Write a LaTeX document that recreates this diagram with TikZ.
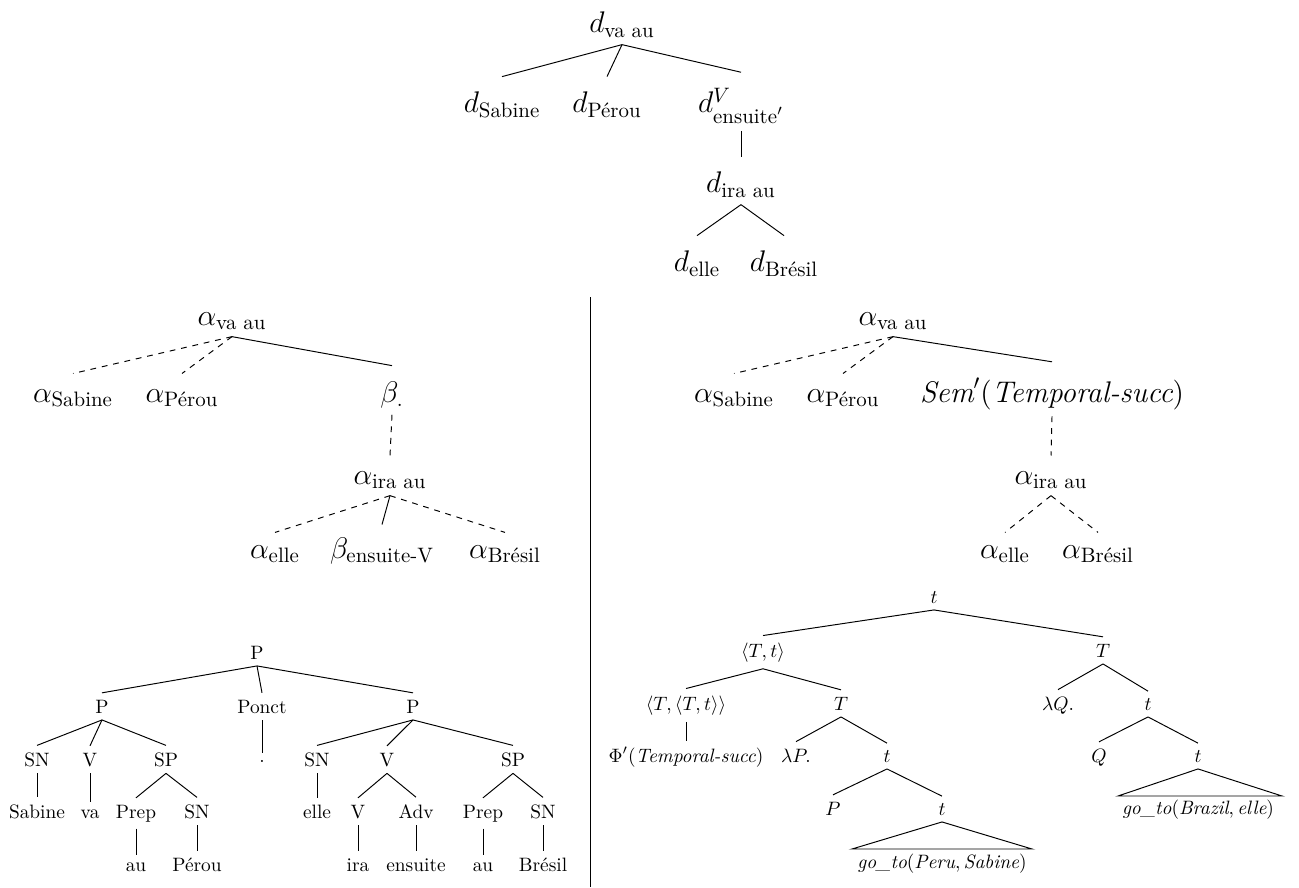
\RequirePackage{fix-cm}
\documentclass[tikz,border=0pt]{standalone}
\usepackage{amsmath}
\usepackage{amssymb}
\usepackage{fontspec}
\usepackage{tikz}
\newcommand{\BigSize}{\fontsize{15.4}{18}\selectfont}
\newcommand{\MyGap}{4.5pt}
\tikzset{
  lab/.style={anchor=base},
  big/.style={anchor=base, font=\BigSize},
  dline/.style={dashed},
}

\begin{document}
\begin{tikzpicture}[x=0.01815cm,y=-0.01815cm,line width=0.5pt]
\useasboundingbox (0,0) rectangle (1299,887);

% derivation tree
\node[big] (dva) at (622,33) {$d_{\text{va au}}$};
\node[big] (dsab) at (502,113) {$d_{\text{Sabine}}$};
\node[big] (dper) at (607,113) {$d_{\text{Pérou}}$};
\node[big] (dens) at (741,113) {$d^{V}_{\text{ensuite}'}$};
\node[big] (dira) at (741,193) {$d_{\text{ira au}}$};
\node[big] (delle) at (697,272) {$d_{\text{elle}}$};
\node[big] (dbre) at (784,272) {$d_{\text{Brésil}}$};

\draw (dva.south) -- ([yshift=\MyGap]dsab.north);
\draw (dva.south) -- ([yshift=\MyGap]dper.north);
\draw (dva.south) -- ([yshift=\MyGap]dens.north);
\draw (dens.south) -- ([yshift=\MyGap]dira.north);
\draw (dira.south) -- ([yshift=\MyGap]delle.north);
\draw (dira.south) -- ([yshift=\MyGap]dbre.north);

% derived tree, left
\node[big] (lva) at (232,325) {$\alpha_{\text{va au}}$};
\node[big] (lsab) at (73,402) {$\alpha_{\text{Sabine}}$};
\node[big] (lper) at (182,402) {$\alpha_{\text{Pérou}}$};
\node[big] (lbeta) at (392,402) {$\beta_{.}$};
\node[big] (lira) at (390,484) {$\alpha_{\text{ira au}}$};
\node[big] (lelle) at (275,558) {$\alpha_{\text{elle}}$};
\node[big] (lens) at (382,558) {$\beta_{\text{ensuite-V}}$};
\node[big] (lbre) at (505,558) {$\alpha_{\text{Brésil}}$};

\draw[dline] (lva.south) -- ([yshift=\MyGap]lsab.north);
\draw[dline] (lva.south) -- ([yshift=\MyGap]lper.north);
\draw (lva.south) -- ([yshift=\MyGap]lbeta.north);
\draw[dline] (lbeta.south) -- ([yshift=\MyGap]lira.north);
\draw[dline] (lira.south) -- ([yshift=3pt]lelle.north);
\draw (lira.south) -- ([yshift=3pt]lens.north);
\draw[dline] (lira.south) -- ([yshift=3pt]lbre.north);

% derived tree, right
\node[big] (rva) at (893,325) {$\alpha_{\text{va au}}$};
\node[big] (rsab) at (734,402) {$\alpha_{\text{Sabine}}$};
\node[big] (rper) at (843,402) {$\alpha_{\text{Pérou}}$};
\node[big] (rsem) at (1052,402) {$\mathit{Sem}'(\textit{Temporal-succ})$};
\node[big] (rira) at (1051,484) {$\alpha_{\text{ira au}}$};
\node[big] (relle) at (1005,558) {$\alpha_{\text{elle}}$};
\node[big] (rbre) at (1098,558) {$\alpha_{\text{Brésil}}$};

\draw[dline] (rva.south) -- ([yshift=\MyGap]rsab.north);
\draw[dline] (rva.south) -- ([yshift=\MyGap]rper.north);
\draw (rva.south) -- ([yshift=\MyGap]rsem.north);
\draw[dline] (rsem.south) -- ([yshift=\MyGap]rira.north);
\draw[dline] (rira.south) -- ([yshift=3pt]relle.north);
\draw[dline] (rira.south) -- ([yshift=3pt]rbre.north);

\coordinate (septop) at (590,297);
\coordinate (sepbot) at (590,887);
\draw (septop) -- (sepbot);

% syntactic tree
\node[lab] (sP) at (257,659) {P};
\node[lab] (sP1) at (102,713) {P};
\node[lab] (sPonct) at (262,713) {Ponct};
\node[lab] (sP2) at (413,713) {P};
\node[lab] (sSN1) at (37,766) {SN};
\node[lab] (sV1) at (90,766) {V};
\node[lab] (sSP1) at (166,766) {SP};
\node[lab] (sdot) at (262,762) {.};
\node[lab] (sSN2) at (317,766) {SN};
\node[lab] (sV2) at (387,766) {V};
\node[lab] (sSP2) at (513,766) {SP};
\node[lab] (wsab) at (37,818) {Sabine};
\node[lab] (wva) at (90,818) {va};
\node[lab] (sPrep1) at (136,818) {Prep};
\node[lab] (sSN3) at (197,818) {SN};
\node[lab] (welle) at (317,818) {elle};
\node[lab] (sV3) at (358,818) {V};
\node[lab] (sAdv) at (416,818) {Adv};
\node[lab] (sPrep2) at (483,818) {Prep};
\node[lab] (sSN4) at (543,818) {SN};
\node[lab] (wau1) at (136,871) {au};
\node[lab] (wper) at (197,871) {Pérou};
\node[lab] (wira) at (358,871) {ira};
\node[lab] (wens) at (416,871) {ensuite};
\node[lab] (wau2) at (483,871) {au};
\node[lab] (wbre) at (543,871) {Brésil};

\draw (sP.south) -- (sP1.north);
\draw (sP.south) -- (sPonct.north);
\draw (sP.south) -- (sP2.north);
\draw (sP1.south) -- (sSN1.north);
\draw (sP1.south) -- (sV1.north);
\draw (sP1.south) -- (sSP1.north);
\draw (sPonct.south) -- (sdot.north);
\draw (sP2.south) -- (sSN2.north);
\draw (sP2.south) -- (sV2.north);
\draw (sP2.south) -- (sSP2.north);
\draw (sSN1.south) -- (wsab.north);
\draw (sV1.south) -- (wva.north);
\draw (sSP1.south) -- (sPrep1.north);
\draw (sSP1.south) -- (sSN3.north);
\draw (sSN2.south) -- (welle.north);
\draw (sV2.south) -- (sV3.north);
\draw (sV2.south) -- (sAdv.north);
\draw (sSP2.south) -- (sPrep2.north);
\draw (sSP2.south) -- (sSN4.north);
\draw (sPrep1.south) -- (wau1.north);
\draw (sSN3.south) -- (wper.north);
\draw (sV3.south) -- (wira.north);
\draw (sAdv.south) -- (wens.north);
\draw (sPrep2.south) -- (wau2.north);
\draw (sSN4.south) -- (wbre.north);

% semantic tree
\node[lab] (et) at (934,603) {$t$};
\node[lab] (eTt) at (763,657) {$\langle T, t\rangle$};
\node[lab] (eT) at (1103,657) {$T$};
\node[lab] (eTTt) at (686,710) {$\langle T, \langle T, t\rangle\rangle$};
\node[lab] (eT2) at (841,710) {$T$};
\node[lab] (elQ) at (1058,710) {$\lambda Q.$};
\node[lab] (et2) at (1148,710) {$t$};
\node[lab] (ephi) at (686,762) {$\Phi'(\textit{Temporal-succ})$};
\node[lab] (elP) at (796,762) {$\lambda P.$};
\node[lab] (et3) at (887,762) {$t$};
\node[lab] (eQ) at (1099,762) {$Q$};
\node[lab] (et4) at (1198,762) {$t$};
\node[lab] (eP) at (833,815) {$P$};
\node[lab] (et5) at (942,815) {$t$};
\node[lab] (ebra) at (1198,814) {$\textit{go\_to}(\textit{Brazil}, \textit{elle})$};
\node[lab] (eper) at (942,868) {$\textit{go\_to}(\textit{Peru}, \textit{Sabine})$};
\coordinate (eperL) at (852,849);
\coordinate (eperR) at (1032,849);
\coordinate (ebraL) at (1118,796);
\coordinate (ebraR) at (1282,796);

\draw (et.south) -- (eTt.north);
\draw (et.south) -- (eT.north);
\draw (eTt.south) -- (eTTt.north);
\draw (eTt.south) -- (eT2.north);
\draw (eTTt.south) -- (ephi.north);
\draw (eT2.south) -- (elP.north);
\draw (eT2.south) -- (et3.north);
\draw (et3.south) -- (eP.north);
\draw (et3.south) -- (et5.north);
\draw (eT.south) -- (elQ.north);
\draw (eT.south) -- (et2.north);
\draw (et2.south) -- (eQ.north);
\draw (et2.south) -- (et4.north);
\draw (et5.south) -- (eperL) -- (eperR) -- cycle;
\draw (et4.south) -- (ebraL) -- (ebraR) -- cycle;

\end{tikzpicture}
\end{document}
